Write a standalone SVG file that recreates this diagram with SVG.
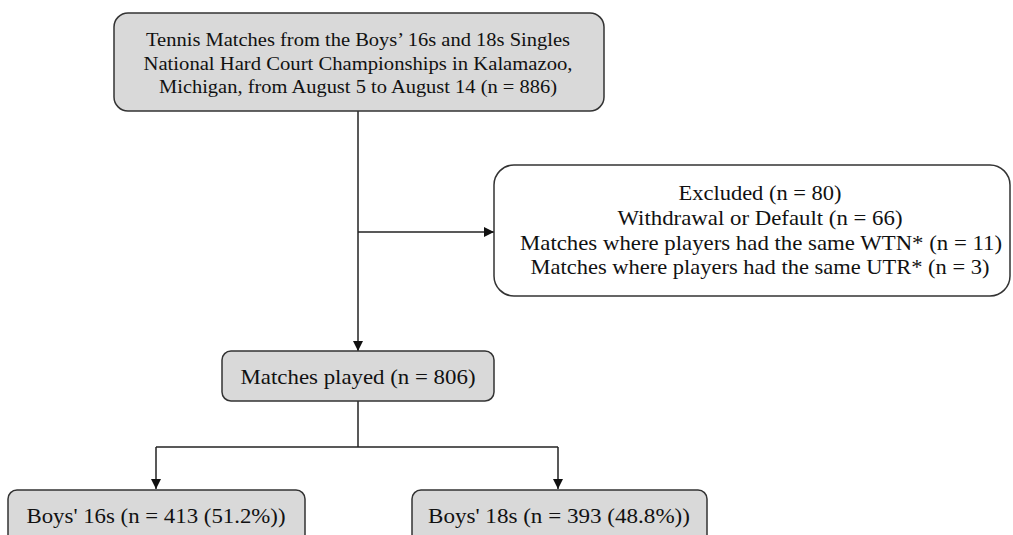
<svg xmlns="http://www.w3.org/2000/svg" width="1013" height="535" viewBox="0 0 1013 535">
<defs>
<style>
.box{fill:#d9d9d9;stroke:#333;stroke-width:1.5}
.wbox{fill:#fff;stroke:#333;stroke-width:1.5}
.t{font-family:"Liberation Serif","Times New Roman",serif;font-size:19px;fill:#111;text-anchor:middle}
.l{font-size:22px}
.c{fill:none;stroke:#222;stroke-width:1.5}
</style>
<marker id="ah" markerWidth="10" markerHeight="10" refX="10" refY="5" orient="auto" markerUnits="userSpaceOnUse">
<path d="M0,0 L10,5 L0,10 z" fill="#111"/>
</marker>
</defs>
<rect width="1013" height="535" fill="#fff"/>
<g id="connectors">
<path class="c" d="M358,111 V351" marker-end="url(#ah)"/>
<path class="c" d="M358,232 H494" marker-end="url(#ah)"/>
<path class="c" d="M358,401 V447"/>
<path class="c" d="M156,447 H558"/>
<path class="c" d="M156,447 V489" marker-end="url(#ah)"/>
<path class="c" d="M558,447 V489" marker-end="url(#ah)"/>
</g>
<g id="node-source">
<rect class="box" x="114" y="13" width="490" height="98" rx="14"/>
<text class="t" x="358" y="46" textLength="424" lengthAdjust="spacingAndGlyphs">Tennis Matches from the Boys’ 16s and 18s Singles</text>
<text class="t" x="358" y="70" textLength="429" lengthAdjust="spacingAndGlyphs">National Hard Court Championships in Kalamazoo,</text>
<text class="t" x="358" y="93" textLength="398" lengthAdjust="spacingAndGlyphs">Michigan, from August 5 to August 14 (n = 886)</text>
</g>
<g id="node-excluded">
<rect class="wbox" x="494" y="165" width="516" height="131" rx="20"/>
<text class="t l" x="760" y="200" textLength="163" lengthAdjust="spacingAndGlyphs">Excluded (n = 80)</text>
<text class="t l" x="760" y="225" textLength="285" lengthAdjust="spacingAndGlyphs">Withdrawal or Default (n = 66)</text>
<text class="t l" x="761" y="250" textLength="482" lengthAdjust="spacingAndGlyphs">Matches where players had the same WTN* (n = 11)</text>
<text class="t l" x="760" y="274" textLength="459" lengthAdjust="spacingAndGlyphs">Matches where players had the same UTR* (n = 3)</text>
</g>
<g id="node-played">
<rect class="box" x="222" y="351" width="272" height="50" rx="9"/>
<text class="t l" x="358" y="384" textLength="235" lengthAdjust="spacingAndGlyphs">Matches played (n = 806)</text>
</g>
<g id="node-16s">
<rect class="box" x="8" y="490" width="297" height="60" rx="9"/>
<text class="t l" x="156" y="523" textLength="259" lengthAdjust="spacingAndGlyphs">Boys' 16s (n = 413 (51.2%))</text>
</g>
<g id="node-18s">
<rect class="box" x="412" y="490" width="295" height="60" rx="9"/>
<text class="t l" x="559" y="523" textLength="262" lengthAdjust="spacingAndGlyphs">Boys' 18s (n = 393 (48.8%))</text>
</g>
</svg>
